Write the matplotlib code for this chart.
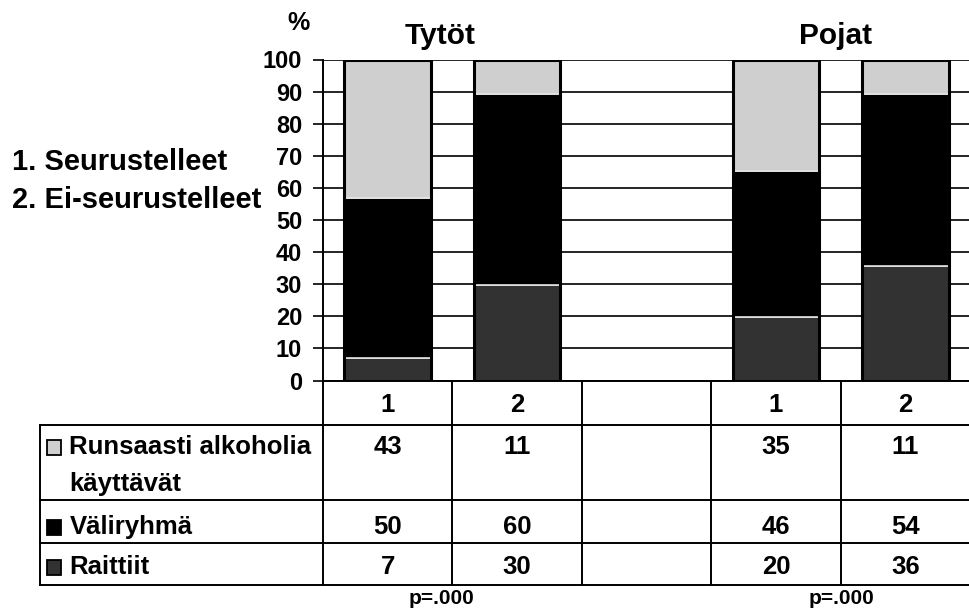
import matplotlib
matplotlib.use('Agg')
import matplotlib.pyplot as plt
from matplotlib.patches import Rectangle

plt.rcParams['font.family'] = ['Liberation Sans', 'DejaVu Sans']
plt.rcParams['font.weight'] = 'bold'

# ---- data ----
categories = ['1', '2', '', '1', '2']
groups = ['Tytöt', 'Pojat']
series_labels = ['Runsaasti alkoholia', 'Väliryhmä', 'Raittiit']
runsaasti = [43, 11, None, 35, 11]
valiryhma = [50, 60, None, 46, 54]
raittiit = [7, 30, None, 20, 36]
p_values = ['p=.000', 'p=.000']
yticks = list(range(0, 101, 10))
left_notes = ['1. Seurustelleet', '2. Ei-seurustelleet']

# ---- style ----
c_light = '#cfcfcf'
c_mid = '#000000'
c_dark = '#323232'
W, H = 970, 610

fig = plt.figure(figsize=(9.7, 6.1), dpi=100)

def fx(px):
    return px / W

def fy(py):
    return 1 - py / H

ax = fig.add_axes([fx(323), fy(380.5), fx(970) - fx(323), fy(59.5) - fy(380.5)])
ax.set_xlim(-0.5, 4.5)
ax.set_ylim(0, 100)

bar_w = 0.67
for i in range(len(categories)):
    if raittiit[i] is None:
        continue
    vals = [raittiit[i], valiryhma[i], runsaasti[i]]
    cols = [c_dark, c_mid, c_light]
    total = sum(vals)
    bottom = 0
    for v, c in zip(vals, cols):
        h = v / total * 100
        ax.bar(i, h, width=bar_w, bottom=bottom, color=c, edgecolor='#e4e4e4',
               linewidth=1.2, zorder=3)
        bottom += h
    ax.bar(i, 100, width=bar_w, fill=False, edgecolor='black', linewidth=2.2, zorder=4)

ax.set_yticks(yticks)
ax.set_yticklabels([str(t) for t in yticks], fontsize=17, fontweight='bold')
ax.set_xticks([])
ax.yaxis.grid(True, color='black', linewidth=1.2)
ax.set_axisbelow(True)
ax.tick_params(axis='y', length=7, width=1.2, pad=8, color='black')
for s in ['right', 'top']:
    ax.spines[s].set_visible(False)
ax.spines['left'].set_linewidth(1.4)
ax.spines['bottom'].set_linewidth(1.4)

# ---- data table ----
tax = fig.add_axes([fx(40), fy(586), fx(970) - fx(40), fy(380.5) - fy(586)])
tax.set_xlim(-2.687, 4.5)
tax.set_ylim(205.5, 0)
tax.axis('off')

row_lines = [44.5, 119.5, 162.5, 204.5]
lk = dict(color='black', linewidth=1.4, clip_on=False)
for y in row_lines:
    tax.plot([-2.687, 4.6], [y, y], **lk)
tax.plot([-2.687, -2.687], [44.5, 204.5], **lk)
for xv in [-0.5, 0.5, 1.5, 2.5, 3.5]:
    tax.plot([xv, xv], [0, 204.5], **lk)

fs = 18.5
for i, c in enumerate(categories):
    tax.text(i, 31, c, ha='center', va='baseline', fontsize=fs, fontweight='bold')

row_baselines = [73.5, 153.5, 193.5]
series_vals = [runsaasti, valiryhma, raittiit]
for yb, vals in zip(row_baselines, series_vals):
    for i, v in enumerate(vals):
        if v is not None:
            tax.text(i, yb, str(v), ha='center', va='baseline', fontsize=fs, fontweight='bold')

key_cols = [c_light, c_mid, c_dark]
for yb, lab, kc in zip(row_baselines, series_labels, key_cols):
    tax.add_patch(Rectangle((-2.633, yb + 1), 0.112, -15, facecolor=kc, edgecolor='black',
                            linewidth=1.3, clip_on=False))
    tax.text(-2.46, yb, lab, ha='left', va='baseline', fontsize=fs, fontweight='bold')
tax.text(-2.46, 111, 'käyttävät', ha='left', va='baseline', fontsize=fs, fontweight='bold')

# ---- titles & annotations ----
fig.text(fx(440), fy(36), groups[0], ha='center', va='center', fontsize=21.5, fontweight='bold')
fig.text(fx(836), fy(36), groups[1], ha='center', va='center', fontsize=21.5, fontweight='bold')
fig.text(fx(298), fy(23), '%', ha='center', va='center', fontsize=18, fontweight='bold')
fig.text(fx(12), fy(162), left_notes[0], ha='left', va='center', fontsize=21, fontweight='bold')
fig.text(fx(12), fy(200), left_notes[1], ha='left', va='center', fontsize=21, fontweight='bold')
fig.text(fx(441), fy(599), p_values[0], ha='center', va='center', fontsize=15, fontweight='bold')
fig.text(fx(841), fy(599), p_values[1], ha='center', va='center', fontsize=15, fontweight='bold')

fig.savefig('out.png', dpi=100)
